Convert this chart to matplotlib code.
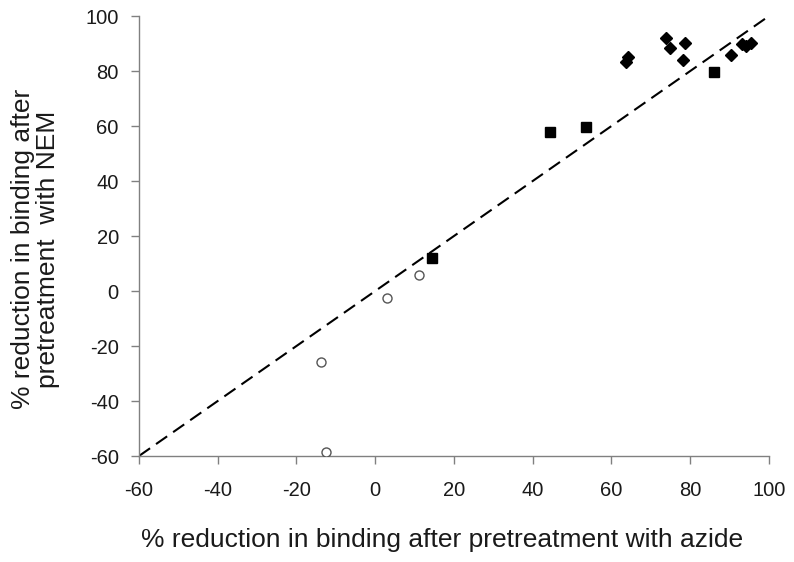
import numpy as np
import matplotlib
matplotlib.use('Agg')
import matplotlib.pyplot as plt

plt.rcParams['font.family'] = ['Liberation Sans', 'DejaVu Sans']
plt.rcParams['axes.unicode_minus'] = False

## Data
# filled diamonds
dia_x = [73.8, 74.9, 78.7, 78.2, 64.3, 63.6, 90.4, 93.2, 94.1, 95.4]
dia_y = [91.9, 88.3, 90.3, 83.9, 85.2, 83.2, 85.7, 89.8, 89.1, 90.3]
# filled squares
sq_x = [44.5, 53.6, 14.3, 86.1]
sq_y = [57.7, 59.7, 11.9, 79.7]
# open circles
circ_x = [11.2, 2.9, -13.7, -12.4]
circ_y = [5.7, -2.4, -25.9, -58.7]

ticks = [-60, -40, -20, 0, 20, 40, 60, 80, 100]
line_xy = [-60, 100]

fig = plt.figure(figsize=(7.94, 5.62), dpi=100)
ax = fig.add_axes([0.175, 0.1886, 0.7935, 0.7829])

ax.plot(line_xy, line_xy, color='black', linestyle=(0, (6.5, 3.5)), linewidth=1.5, zorder=1)
ax.plot(dia_x, dia_y, linestyle='none', marker='D', markersize=5.8, color='black', zorder=3)
ax.plot(sq_x, sq_y, linestyle='none', marker='s', markersize=6.5, color='black', zorder=3)
ax.plot(circ_x, circ_y, linestyle='none', marker='o', markersize=6.5,
        markerfacecolor='white', markeredgecolor='#555555', markeredgewidth=1.0, zorder=3)

ax.set_xlim(-60, 100)
ax.set_ylim(-60, 100)
ax.set_xticks(ticks)
ax.set_yticks(ticks)

for s in ['top', 'right']:
    ax.spines[s].set_visible(False)
for s in ['left', 'bottom']:
    ax.spines[s].set_color('#808080')
    ax.spines[s].set_linewidth(1.0)

ax.tick_params(direction='out', length=5.5, width=1.0, color='#808080',
               labelsize=14.5, labelcolor='#1a1a1a')
ax.tick_params(axis='x', pad=12.5)
ax.tick_params(axis='y', pad=9)

ax.set_xlabel('% reduction in binding after pretreatment with azide',
              fontsize=19, color='#1a1a1a', labelpad=20)
ax.set_ylabel('% reduction in binding after\npretreatment  with NEM',
              fontsize=19, color='#1a1a1a', labelpad=18, linespacing=1.1)
ax.xaxis.label.set_x(0.481)
ax.yaxis.label.set_y(0.47)

fig.savefig('out.png', dpi=100)
